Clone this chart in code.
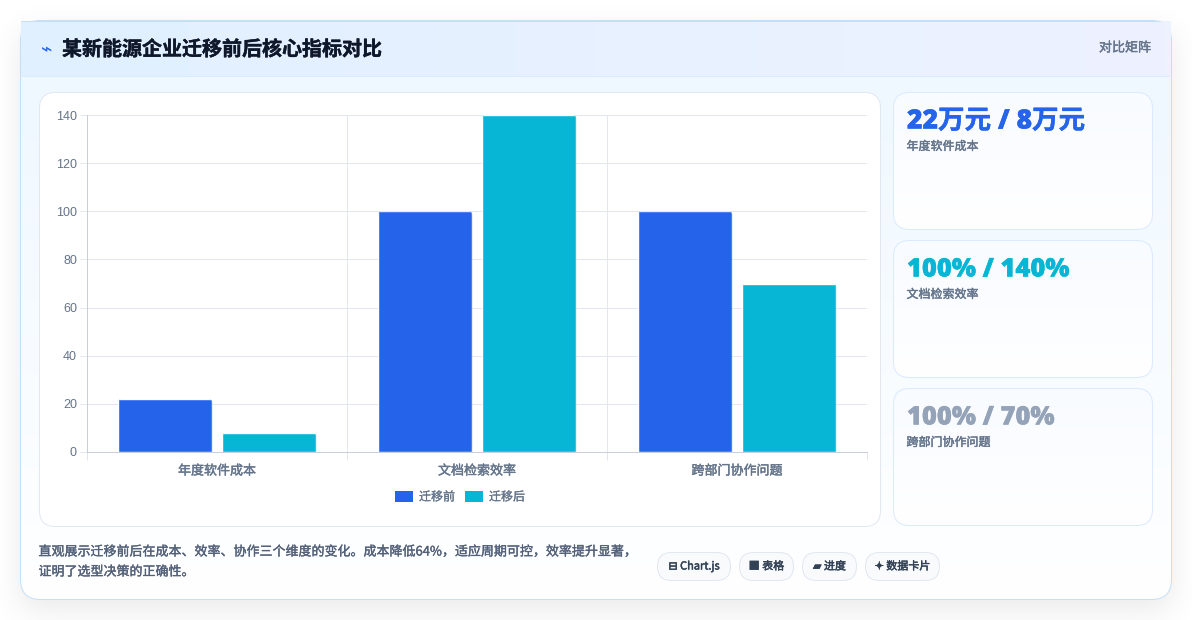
import numpy as np, pandas as pd, seaborn as sns
import matplotlib
matplotlib.use('Agg')
import matplotlib.pyplot as plt
import matplotlib.patheffects as pe
from matplotlib.patches import FancyBboxPatch
from matplotlib.transforms import IdentityTransform
from matplotlib.colors import LinearSegmentedColormap as LSC
from math import erf

categories = ['年度软件成本', '文档检索效率', '跨部门协作问题']
series_names = ['迁移前', '迁移后']
before = [22, 100, 100]
after = [8, 140, 70]
y_ticks = [0, 20, 40, 60, 80, 100, 120, 140]
title = '某新能源企业迁移前后核心指标对比'
tag = '对比矩阵'
metric_values = ['22万元 / 8万元', '100% / 140%', '100% / 70%']
metric_colors = ['#2563eb', '#06b6d4', '#94a3b8']
metric_sizes = [26.5, 25.5, 25.5]
footer = ['直观展示迁移前后在成本、效率、协作三个维度的变化。成本降低64%，适应周期可控，效率提升显著，', '证明了选型决策的正确性。']
chips = ['⊟ Chart.js', '■ 表格', '▰ 进度', '✦ 数据卡片']

sns.set_theme(style='white')
CJK = ['Noto Sans CJK SC', 'DejaVu Sans']
plt.rcParams['font.family'] = CJK
W, H = 1192, 620
PX = 0.72
LW = 0.72
fig = plt.figure(figsize=(W/100, H/100), dpi=100, facecolor='white')
bg = fig.add_axes([0, 0, 1, 1], zorder=0)
bg.set_xlim(0, W); bg.set_ylim(H, 0); bg.axis('off')

def thick(t, color, w=0.3):
    t.set_path_effects([pe.withStroke(linewidth=w, foreground=color)])
    return t

def rbox(x0, y0, x1, y1, r, fc, ec='none', lw=LW, z=2):
    p = FancyBboxPatch((x0, y0), x1-x0, y1-y0, boxstyle=f'round,pad=0,rounding_size={r}',
                       fc=fc, ec=ec, lw=lw, zorder=z, mutation_aspect=1)
    bg.add_patch(p)
    return p

def grad(x0, y0, x1, y1, c0, c1, horizontal=False, clip=None, z=2.5):
    cm = LSC.from_list('g', [c0, c1])
    a = np.linspace(0, 1, 256)
    a = a[None, :] if horizontal else a[:, None]
    im = bg.imshow(a, extent=(x0, x1, y1, y0), cmap=cm, aspect='auto', zorder=z, interpolation='bilinear')
    if clip is not None:
        im.set_clip_path(clip)
    return im

def prof(n, a, b, s):
    return np.array([0.5*(erf((b-i)/(s*2**.5)) - erf((a-i)/(s*2**.5))) for i in range(n)])
sh = np.outer(prof(H, 31, 609, 16), prof(W, 20, 1171, 16))
rgba = np.zeros((H, W, 4)); rgba[..., :3] = 0.06; rgba[..., 3] = sh*0.09
bg.imshow(rgba, extent=(0, W, H, 0), aspect='auto', zorder=1)
bg.set_xlim(0, W); bg.set_ylim(H, 0)

# main card
rbox(20.5, 20.5, 1171.5, 599.5, 20, '#ffffff', 'none', LW, 2)
body_clip = rbox(21, 21, 1171, 599, 20, 'none', 'none', 0, 2)
grad(21, 76, 1171, 599, '#eff8ff', '#ffffff', clip=body_clip)
rbox(20.5, 20.5, 1171.5, 599.5, 20, 'none', '#c4e0f6', LW, 2.55)
grad(21, 21, 1171, 76, '#e0f0ff', '#eef2ff', horizontal=True, z=2.6)
bg.plot([21, 1171], [76, 76], color='#dbeafe', lw=LW, zorder=2.7)
bg.plot([21, 1160], [21, 21], color='#c4e0f6', lw=LW, zorder=2.7)
bg.set_xlim(0, W); bg.set_ylim(H, 0)

bg.text(47, 50, '⌁', fontsize=19*PX, color='#2563eb', ha='center', va='center', zorder=5, family='DejaVu Sans')
thick(bg.text(62, 49, title, fontsize=20*PX, weight='bold', color='#0f172a', ha='left', va='center', zorder=5), '#0f172a', 0.3)
thick(bg.text(1151, 48, tag, fontsize=13*PX, weight='medium', color='#64748b', ha='right', va='center', zorder=5), '#64748b')

# chart panel
rbox(39.5, 92.5, 880.5, 526.5, 16, '#ffffff', '#e2e8f0', LW, 3)

# metric cards
tops = [(92.5, 229.5), (240.5, 377.5), (388.5, 525.5)]
for (t, b), v, c, lab, fs in zip(tops, metric_values, metric_colors, categories, metric_sizes):
    clip = rbox(893.5, t, 1152.5, b, 16, '#ffffff', 'none', 0, 3)
    grad(893.5, t, 1152.5, b, '#f8fbff', '#ffffff', clip=clip, z=3.1)
    rbox(893.5, t, 1152.5, b, 16, 'none', '#dbeafe', LW, 3.2)
    thick(bg.text(907, t+29, v, fontsize=fs*PX, weight='heavy', color=c, ha='left', va='center', zorder=5,
            family=['Open Sans', 'Noto Sans CJK SC']), c, 0.3)
    thick(bg.text(906.5, t+54, lab, fontsize=12*PX, weight='medium', color='#64748b', ha='left', va='center', zorder=5), '#64748b')
bg.set_xlim(0, W); bg.set_ylim(H, 0)

# footer
for yy, line in zip([552, 572], footer):
    thick(bg.text(38.5, yy, line, fontsize=13*PX, weight='medium', color='#526079', ha='left', va='center', zorder=5), '#526079', 0.25)
chip_boxes = [(657.5, 730.5), (739.5, 793.5), (802.5, 856.5), (865.5, 939.5)]
for (a, b), s in zip(chip_boxes, chips):
    rbox(a, 552.5, b, 580.5, 14, '#f8fafc', '#e2e8f0', LW, 3)
    thick(bg.text((a+b)/2, 566.5, s, fontsize=11*PX, weight='medium', color='#334155', ha='center', va='center', zorder=5,
            family=CJK), '#334155', 0.35)

# chart
ax = fig.add_axes([87/W, 1-452/H, 780/W, 337/H], zorder=2)
ax.patch.set_alpha(0)
df = pd.DataFrame({'cat': categories*2,
                   'ser': [series_names[0]]*3 + [series_names[1]]*3,
                   'val': before + after})
sns.barplot(data=df, x='cat', y='val', hue='ser', palette=['#2563eb', '#06b6d4'], ax=ax,
            width=0.8, gap=0.09, saturation=1, dodge=True, errorbar=None, zorder=3)
ax.set_xlim(-0.5, 2.5); ax.set_ylim(0, 140)
ax.set_xlabel(''); ax.set_ylabel('')
GRID = '#e3e6ec'
ax.set_yticks(y_ticks)
ax.set_xticks([0, 1, 2])
ax.set_xticks([-0.5, 0.5, 1.5, 2.5], minor=True)
ax.tick_params(axis='x', which='major', length=0, pad=7*PX+4, labelsize=13*PX, labelcolor='#64748b')
ax.tick_params(axis='x', which='minor', length=8*PX, width=LW, color=GRID, bottom=True)
ax.tick_params(axis='y', length=7*PX, width=LW, color=GRID, pad=3*PX, left=True, labelsize=12.5*PX, labelcolor='#64748b')
for t in ax.get_yticklabels():
    t.set_family(['Liberation Sans'])
for t in ax.get_xticklabels():
    thick(t, '#64748b')
ax.grid(True, axis='y', which='major', color=GRID, lw=LW, zorder=0)
ax.grid(True, axis='x', which='minor', color=GRID, lw=LW, zorder=0)
ax.set_axisbelow(True)
for s in ['top', 'right']:
    ax.spines[s].set_visible(False)
for s in ['left', 'bottom']:
    ax.spines[s].set_color('#c9ced8'); ax.spines[s].set_linewidth(LW)
    ax.spines[s].set_zorder(2)

fig.canvas.draw()
for c in ax.containers:
    for bar in c:
        e = bar.get_window_extent()
        clip = FancyBboxPatch((e.x0, e.y0-10), e.width, e.height+10,
                              boxstyle='round,pad=0,rounding_size=4', transform=IdentityTransform())
        bar.set_clip_path(clip)

hs, ls = ax.get_legend_handles_labels()
leg = ax.legend(hs, ls, loc='center', bbox_to_anchor=(460/W, 1-497/H), bbox_transform=fig.transFigure,
                ncol=2, frameon=False, fontsize=12*PX, handlelength=1.5, handleheight=1.0,
                handletextpad=0.5, columnspacing=0.83, borderpad=0, borderaxespad=0, labelcolor='#64748b')
for h in leg.legend_handles:
    h.set_edgecolor('none')
for t in leg.get_texts():
    thick(t, '#64748b', 0.2)

fig.savefig('out.png', dpi=100, facecolor='white')
